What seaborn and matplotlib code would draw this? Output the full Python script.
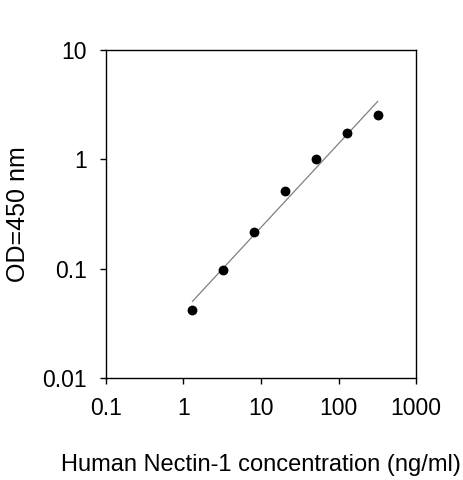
import numpy as np
import matplotlib
matplotlib.use("Agg")
import matplotlib.pyplot as plt
import seaborn as sns

# Standard curve data
concentration = [1.31, 3.28, 8.19, 20.5, 51.2, 128, 320]
od450 = [0.0416, 0.098, 0.215, 0.508, 1.0, 1.75, 2.55]

# Plot style
sns.set_style("white")
plt.rcParams["font.family"] = ["Liberation Sans", "DejaVu Sans"]
plt.rcParams["text.color"] = "black"
plt.rcParams["axes.labelcolor"] = "black"
plt.rcParams["xtick.color"] = "black"
plt.rcParams["ytick.color"] = "black"

fig = plt.figure(figsize=(4.63, 4.8), dpi=100)
ax = fig.add_axes([0.228, 0.2125, 0.671, 0.684])

# log-log linear fit
slope, intercept = np.polyfit(np.log10(concentration), np.log10(od450), 1)
fit_x = np.array([concentration[0], concentration[-1]])
fit_y = 10 ** (intercept + slope * np.log10(fit_x))
ax.plot(fit_x, fit_y, color="#808080", linewidth=0.9, zorder=1)

sns.scatterplot(x=concentration, y=od450, ax=ax, color="black", s=50,
                edgecolor="black", linewidth=0, zorder=2)

ax.set_xscale("log")
ax.set_yscale("log")
ax.set_xlim(0.1, 1000)
ax.set_ylim(0.01, 10)
ax.set_xticks([0.1, 1, 10, 100, 1000])
ax.set_xticklabels(["0.1", "1", "10", "100", "1000"])
ax.set_yticks([0.01, 0.1, 1, 10])
ax.set_yticklabels(["0.01", "0.1", "1", "10"])
ax.minorticks_off()

for s in ax.spines.values():
    s.set_color("black")
    s.set_linewidth(1.0)
ax.tick_params(direction="out", length=4.5, width=1, color="black",
               labelsize=16.5, bottom=True, left=True)
ax.tick_params(axis="x", pad=9)
ax.tick_params(axis="y", pad=9)

ax.set_xlabel("Human Nectin-1 concentration (ng/ml)", fontsize=17, labelpad=25)
ax.set_ylabel("OD=450 nm", fontsize=18, labelpad=9)

fig.savefig("out.png", dpi=100)
